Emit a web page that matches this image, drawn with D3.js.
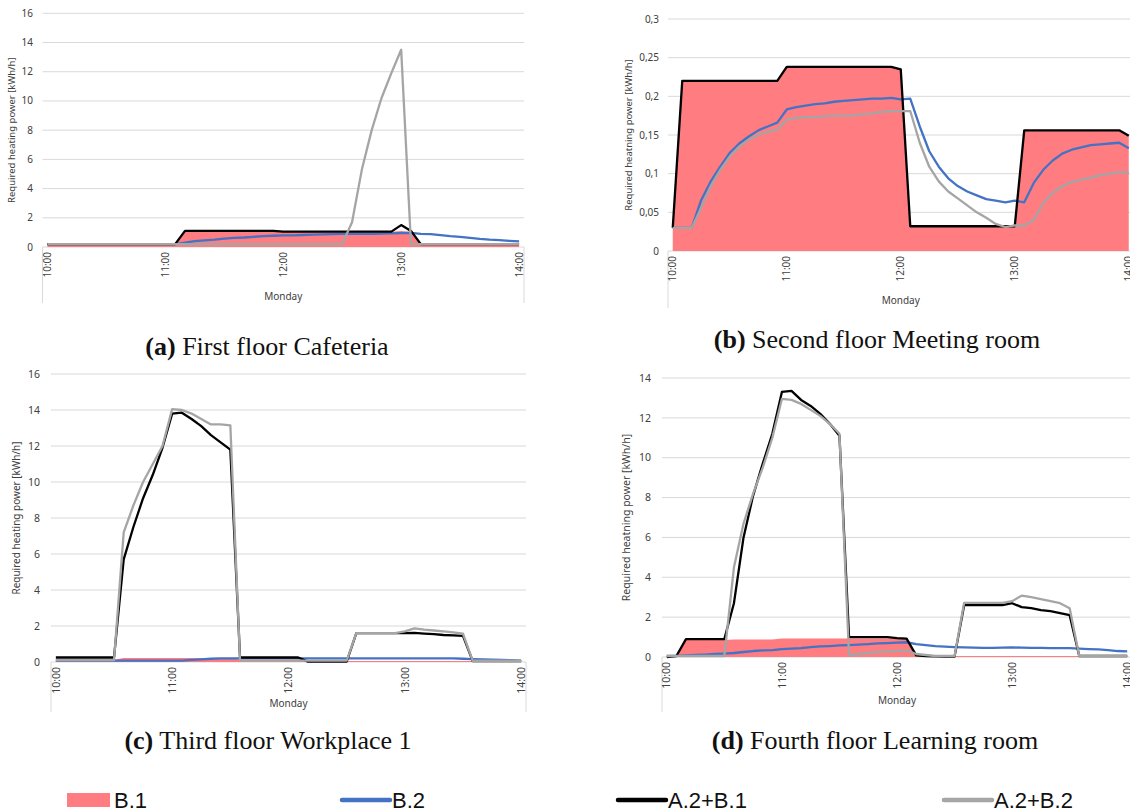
<!DOCTYPE html>
<html>
<head>
<meta charset="utf-8">
<script src="https://cdn.jsdelivr.net/npm/d3@7"></script>
<style>
  body{margin:0;background:#fff;}
  svg{display:block;font-family:"Noto Sans",sans-serif;}
  .grid{stroke:#d9d9d9;stroke-width:1;}
  .box{stroke:#d9d9d9;stroke-width:1;}
  .tick_y,.tick_x,.monday,.ytitle{fill:#404040;}
  .caption{font-family:"Liberation Serif","Times New Roman",serif;font-size:26px;fill:#111;}
  .legend_txt{font-family:"Liberation Sans Narrow","Liberation Sans",sans-serif;font-size:22px;fill:#111;}
</style>
</head>
<body>
<svg id="chart" width="1130" height="812"></svg>
<script>

//categories: 5 minute steps, Monday 10:00 - 14:00
var times = [
  '10:00','10:05','10:10','10:15','10:20','10:25','10:30','10:35','10:40','10:45','10:50','10:55',
  '11:00','11:05','11:10','11:15','11:20','11:25','11:30','11:35','11:40','11:45','11:50','11:55',
  '12:00','12:05','12:10','12:15','12:20','12:25','12:30','12:35','12:40','12:45','12:50','12:55',
  '13:00','13:05','13:10','13:15','13:20','13:25','13:30','13:35','13:40','13:45','13:50','13:55',
  '14:00'];
var hourTicks = ['10:00','11:00','12:00','13:00','14:00'];

//(a) first floor cafeteria
var a_b1   = [0.15,0.15,0.15,0.15,0.15,0.15,0.15,0.15,0.15,0.15,0.15,0.15,0.15,0.2,
              1.1,1.1,1.1,1.1,1.1,1.1,1.1,1.1,1.1,1.1,
              1.05,1.05,1.05,1.05,1.05,1.05,1.05,1.05,1.05,1.05,1.05,1.05,1.1,1.05,
              0.15,0.15,0.15,0.15,0.15,0.15,0.15,0.15,0.15,0.15,0.15];
var a_b2   = [0.2,0.2,0.2,0.2,0.2,0.2,0.2,0.2,0.2,0.2,0.2,0.2,0.2,0.2,
              0.3,0.4,0.45,0.5,0.58,0.62,0.65,0.7,0.74,0.77,0.8,0.8,0.82,0.85,0.87,0.88,
              0.9,0.9,0.9,0.9,0.92,0.93,0.95,0.97,0.9,0.88,0.82,0.75,0.7,0.62,0.55,0.5,0.47,0.42,0.38];
var a_a2b1 = [0.2,0.2,0.2,0.2,0.2,0.2,0.2,0.2,0.2,0.2,0.2,0.2,0.2,0.2,
              1.1,1.1,1.1,1.1,1.1,1.1,1.1,1.1,1.1,1.1,
              1.05,1.05,1.05,1.05,1.05,1.05,1.05,1.05,1.05,1.05,1.05,1.05,1.5,1.1,
              0.2,0.2,0.2,0.2,0.2,0.2,0.2,0.2,0.2,0.2,0.2];
var a_a2b2 = [0.2,0.2,0.2,0.2,0.2,0.2,0.2,0.2,0.2,0.2,0.2,0.2,0.2,0.2,0.2,0.2,
              0.2,0.2,0.2,0.2,0.2,0.2,0.2,0.2,0.2,0.2,0.2,0.2,0.2,0.2,0.2,
              1.7,5.3,8.0,10.2,11.9,13.5,
              0.2,0.2,0.2,0.2,0.2,0.2,0.2,0.2,0.2,0.2,0.2,0.2];

//(b) second floor meeting room
var b_b1   = [0.03,0.22,0.22,0.22,0.22,0.22,0.22,0.22,0.22,0.22,0.22,0.22,
              0.238,0.238,0.238,0.238,0.238,0.238,0.238,0.238,0.238,0.238,0.238,0.238,
              0.235,0.032,0.032,0.032,0.032,0.032,0.032,0.032,0.032,0.032,0.032,0.032,
              0.032,0.156,0.156,0.156,0.156,0.156,0.156,0.156,0.156,0.156,0.156,0.156,0.149];
var b_b2   = [0.03,0.03,0.03,0.066,0.09,0.109,0.127,0.139,0.148,0.156,0.161,0.166,
              0.183,0.186,0.188,0.19,0.191,0.193,0.194,0.195,0.196,0.197,0.197,0.198,
              0.196,0.197,0.161,0.129,0.109,0.094,0.084,0.077,0.072,0.067,0.065,0.063,
              0.065,0.063,0.088,0.105,0.117,0.126,0.131,0.134,0.137,0.138,0.139,0.14,0.133];
var b_a2b1 = [0.03,0.22,0.22,0.22,0.22,0.22,0.22,0.22,0.22,0.22,0.22,0.22,
              0.238,0.238,0.238,0.238,0.238,0.238,0.238,0.238,0.238,0.238,0.238,0.238,
              0.235,0.032,0.032,0.032,0.032,0.032,0.032,0.032,0.032,0.032,0.032,0.032,
              0.032,0.156,0.156,0.156,0.156,0.156,0.156,0.156,0.156,0.156,0.156,0.156,0.149];
var b_a2b2 = [0.03,0.03,0.03,0.056,0.084,0.105,0.122,0.135,0.144,0.15,0.154,0.157,
              0.17,0.172,0.173,0.173,0.174,0.175,0.175,0.175,0.177,0.178,0.18,0.181,
              0.181,0.181,0.14,0.109,0.09,0.077,0.068,0.059,0.05,0.043,0.035,0.031,
              0.033,0.033,0.04,0.062,0.075,0.084,0.089,0.092,0.095,0.098,0.1,0.102,0.101];

//(c) third floor workplace 1
var c_b1   = [0.12,0.12,0.12,0.12,0.12,0.12,0.12,
              0.22,0.22,0.22,0.22,0.22,0.22,0.22,0.22,0.22,0.22,0.22,0.22,
              0.12,0.12,0.12,0.12,0.12,0.12,0.12,
              0.05,0.05,0.05,0.05,0.05,0.05,0.05,0.05,0.05,0.05,0.05,0.05,0.05,0.05,0.05,0.05,
              0.05,0.05,0.05,0.05,0.05,0.05,0.05];
var c_b2   = [0.08,0.08,0.08,0.08,0.08,0.08,0.08,0.08,0.08,0.08,0.08,0.08,0.08,0.08,
              0.12,0.15,0.18,0.2,0.2,
              0.2,0.2,0.2,0.2,0.2,0.2,0.2,0.2,0.2,0.2,0.2,0.2,0.2,0.2,0.2,0.2,0.2,0.2,0.2,0.2,0.2,0.2,0.2,
              0.18,0.16,0.15,0.13,0.12,0.1,0.08];
var c_a2b1 = [0.25,0.25,0.25,0.25,0.25,0.25,0.25,
              5.7,7.5,9.1,10.4,11.9,13.8,13.85,13.5,13.1,12.6,12.2,11.8,
              0.25,0.25,0.25,0.25,0.25,0.25,0.25,
              0.02,0.02,0.02,0.02,0.02,
              1.6,1.6,1.6,1.6,1.6,1.6,1.62,1.58,1.55,1.5,1.48,1.45,
              0.05,0.05,0.05,0.05,0.05,0.05];
var c_a2b2 = [0.1,0.1,0.1,0.1,0.1,0.1,0.1,
              7.2,8.7,10.0,11.0,12.0,14.05,14.0,13.8,13.5,13.2,13.2,13.15,
              0.08,0.08,0.08,0.08,0.08,0.08,0.08,0.08,0.08,0.08,0.08,0.08,
              1.6,1.6,1.6,1.6,1.6,1.7,1.87,1.8,1.75,1.7,1.65,1.57,
              0.07,0.07,0.07,0.07,0.07,0.07];

//(d) fourth floor learning room
var d_b1   = [0,0.05,0.85,0.85,0.85,0.85,0.85,
              0.88,0.88,0.88,0.88,0.88,
              0.93,0.93,0.93,0.93,0.93,0.93,0.93,0.93,0.93,0.93,0.93,0.93,0.93,0.93,
              0.05,0.05,0.05,0.05,0.05,0.05,0.05,0.05,0.05,0.05,0.05,0.05,0.05,0.05,0.05,0.05,
              0.05,0.05,0.05,0.05,0.05,0.05,0.05];
var d_b2   = [0.05,0.06,0.08,0.1,0.12,0.15,0.17,
              0.2,0.25,0.3,0.33,0.35,0.4,0.42,0.45,0.5,0.53,0.55,0.58,
              0.6,0.62,0.65,0.68,0.7,0.72,0.74,
              0.65,0.6,0.55,0.52,0.5,
              0.48,0.47,0.46,0.46,0.47,0.48,0.47,0.46,0.46,0.45,0.45,0.45,
              0.42,0.4,0.38,0.35,0.3,0.28];
var d_a2b1 = [0,0.05,0.9,0.9,0.9,0.9,0.9,
              2.7,6.0,8.1,9.7,11.2,13.3,13.35,12.9,12.6,12.2,11.7,11.1,
              1.0,1.0,1.0,1.0,1.0,0.95,0.92,
              0.08,0.05,0.03,0.02,0.02,
              2.6,2.6,2.6,2.6,2.6,2.7,2.5,2.45,2.35,2.3,2.2,2.1,
              0.05,0.05,0.05,0.05,0.05,0.05];
var d_a2b2 = [0.05,0.05,0.05,0.05,0.05,0.05,0.05,
              4.5,6.7,8.2,9.5,11.0,12.95,12.9,12.7,12.4,12.1,11.7,11.2,
              0.08,0.15,0.2,0.25,0.28,0.3,0.33,
              0.15,0.1,0.05,0.05,0.05,
              2.72,2.72,2.72,2.72,2.72,2.8,3.08,3.0,2.9,2.8,2.7,2.45,
              0.05,0.05,0.05,0.05,0.05,0.05];

var seriesNames = ['B.1','B.2','A.2+B.1','A.2+B.2'];
var colors = {b1:'#ff7c80', b2:'#4472c4', a2b1:'#000000', a2b2:'#a5a5a5'};

var svg = d3.select('#chart');

function commaFmt(d){ return d === 0 ? '0' : String(+d.toFixed(2)).replace('.', ','); }

//one panel of the figure
function drawPanel(cfg){

  var g = svg.append('g').attr('class','panel_' + cfg.id);

  var x = d3.scalePoint()
      .domain(times)
      .range([cfg.left, cfg.right])
      .padding(0.5);

  var y = d3.scaleLinear()
      .domain([0, cfg.yMax])
      .range([cfg.bottom, cfg.top]);

  var yTicks = d3.range(0, cfg.yMax + cfg.yStep/2, cfg.yStep);

  //gridlines
  g.selectAll('.grid')
      .data(yTicks)
      .enter()
      .append('line')
      .attr('class','grid')
      .attr('x1',cfg.left)
      .attr('x2',cfg.right)
      .attr('y1',function(d){return y(d)})
      .attr('y2',function(d){return y(d)});

  g.selectAll('.tick_y')
      .data(yTicks)
      .enter()
      .append('text')
      .attr('class','tick_y')
      .attr('x',cfg.tickX)
      .attr('y',function(d){return y(d)})
      .attr('dy','0.35em')
      .attr('text-anchor','end')
      .style('font-size',cfg.tickSize + 'px')
      .text(cfg.fmt);

  //category label box
  g.append('line').attr('class','box')
      .attr('x1',cfg.left).attr('x2',cfg.left)
      .attr('y1',cfg.bottom).attr('y2',cfg.boxBottom);
  g.append('line').attr('class','box')
      .attr('x1',cfg.right).attr('x2',cfg.right)
      .attr('y1',cfg.bottom).attr('y2',cfg.boxBottom);

  //B.1 area
  var area = d3.area()
      .x(function(d,i){return x(times[i])})
      .y0(y(0))
      .y1(function(d){return y(d)});

  g.append('path')
      .datum(cfg.b1)
      .attr('d',area)
      .style('fill',colors.b1);

  var line = d3.line()
      .x(function(d,i){return x(times[i])})
      .y(function(d){return y(d)});

  ['b2','a2b1','a2b2'].forEach(function(k){
      g.append('path')
          .datum(cfg[k])
          .attr('d',line)
          .style('fill','none')
          .style('stroke',colors[k])
          .style('stroke-width',2.3)
          .style('stroke-linejoin','round');
  });

  //x tick labels (rotated)
  g.selectAll('.tick_x')
      .data(hourTicks)
      .enter()
      .append('text')
      .attr('class','tick_x')
      .attr('transform',function(d){return 'translate(' + x(d) + ',' + (cfg.bottom + 5) + ') rotate(-90)'})
      .attr('dy','0.35em')
      .attr('text-anchor','end')
      .style('font-size',cfg.tickSize + 'px')
      .text(function(d){return d});

  g.append('text')
      .attr('class','monday')
      .attr('x',(cfg.left + cfg.right)/2)
      .attr('y',cfg.mondayY)
      .attr('dy','0.35em')
      .attr('text-anchor','middle')
      .style('font-size','10px')
      .text('Monday');

  g.append('text')
      .attr('class','ytitle')
      .attr('transform','translate(' + cfg.yTitleX + ',' + ((cfg.top + cfg.bottom)/2) + ') rotate(-90)')
      .attr('dy','0.35em')
      .attr('text-anchor','middle')
      .style('font-size',cfg.yTitleSize + 'px')
      .text(cfg.yTitle);

  //caption
  var cap = g.append('text')
      .attr('class','caption')
      .attr('x',cfg.capX)
      .attr('y',cfg.capY)
      .attr('text-anchor','middle');
  cap.append('tspan').style('font-weight','bold').text('(' + cfg.id + ')');
  cap.append('tspan').text(' ' + cfg.caption);

}//drawPanel

var intFmt = d3.format('d');

drawPanel({id:'a', b1:a_b1, b2:a_b2, a2b1:a_a2b1, a2b2:a_a2b2,
  yMax:16, yStep:2, fmt:intFmt, yTitle:'Required heating power [kWh/h]',
  left:42.5, right:524, top:13.3, bottom:247, tickX:33, tickSize:10,
  boxBottom:303, mondayY:296, yTitleX:12, yTitleSize:9.5,
  caption:'First floor Cafeteria', capX:267, capY:355});

drawPanel({id:'b', b1:b_b1, b2:b_b2, a2b1:b_a2b1, a2b2:b_a2b2,
  yMax:0.3, yStep:0.05, fmt:commaFmt, yTitle:'Required heatning power [kWh/h]',
  left:668, right:1133.5, top:19, bottom:251, tickX:659, tickSize:10,
  boxBottom:308, mondayY:300, yTitleX:629, yTitleSize:9.5,
  caption:'Second floor Meeting room', capX:877, capY:348});

drawPanel({id:'c', b1:c_b1, b2:c_b2, a2b1:c_a2b1, a2b2:c_a2b2,
  yMax:16, yStep:2, fmt:intFmt, yTitle:'Required heating power [kWh/h]',
  left:51, right:526, top:374, bottom:662, tickX:40, tickSize:10.5,
  boxBottom:712, mondayY:703, yTitleX:16, yTitleSize:10,
  caption:'Third floor Workplace 1', capX:268, capY:749});

drawPanel({id:'d', b1:d_b1, b2:d_b2, a2b1:d_a2b1, a2b2:d_a2b2,
  yMax:14, yStep:2, fmt:intFmt, yTitle:'Required heatning power [kWh/h]',
  left:662, right:1132, top:378, bottom:657, tickX:651, tickSize:10.5,
  boxBottom:712, mondayY:700, yTitleX:626, yTitleSize:10.5,
  caption:'Fourth floor Learning room', capX:875, capY:749});

//legend
var legendX = [67, 342, 618, 944];
var legendKeys = ['b1','b2','a2b1','a2b2'];
var legend = svg.append('g').attr('class','legend');

legendKeys.forEach(function(k,i){
    if(k === 'b1'){
        legend.append('rect')
            .attr('x',legendX[i]).attr('y',793)
            .attr('width',43).attr('height',14)
            .style('fill',colors[k]);
    } else {
        legend.append('line')
            .attr('x1',legendX[i]).attr('x2',legendX[i] + 48)
            .attr('y1',800).attr('y2',800)
            .style('stroke',colors[k])
            .style('stroke-width',4.5)
            .style('stroke-linecap','round');
    }
    legend.append('text')
        .attr('class','legend_txt')
        .attr('x',legendX[i] + (k === 'b1' ? 47 : 50))
        .attr('y',808)
        .text(seriesNames[i]);
});

</script>
</body>
</html>
